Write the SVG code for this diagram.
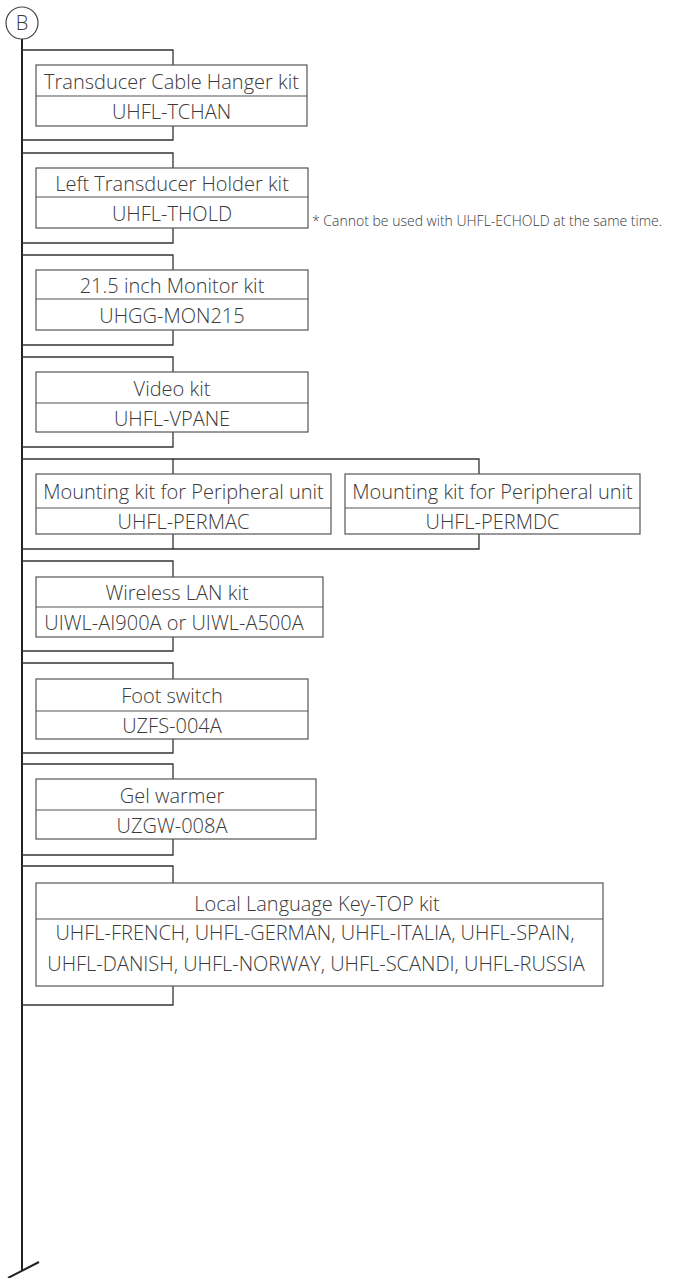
<svg xmlns="http://www.w3.org/2000/svg" width="673" height="1278" viewBox="0 0 673 1278">
<style>
.box{fill:#fff;stroke:#555;stroke-width:1.2}
.div{stroke:#555;stroke-width:1.2}
.br{fill:none;stroke:#333;stroke-width:1.3}
.main{fill:none;stroke:#222;stroke-width:2}
text{font-family:"Open Sans","Liberation Sans",sans-serif;font-weight:300;font-size:20px;fill:#3a3a3a;text-anchor:middle}
.note{font-size:14px;text-anchor:start}
</style>
<rect width="673" height="1278" fill="#fff"/>
<g id="connectors">
<path class="main" d="M22,39 V1271"/>
<path class="main" d="M8,1278 L39,1262" stroke-width="1.3"/>
<path class="br" d="M22,50 H173 V65 M173,126 V140 H22"/>
<path class="br" d="M22,153 H173 V168 M173,228 V243 H22"/>
<path class="br" d="M22,255 H173 V270 M173,330 V345 H22"/>
<path class="br" d="M22,357 H173 V372 M173,432 V447 H22"/>
<path class="br" d="M22,459 H479 V474 M173,459 V474 M173,534 V549 M479,534 V549 H22"/>
<path class="br" d="M22,561 H173 V577 M173,637 V651 H22"/>
<path class="br" d="M22,663 H173 V679 M173,739 V753 H22"/>
<path class="br" d="M22,764 H173 V779 M173,839 V855 H22"/>
<path class="br" d="M22,866 H173 V883 M173,986 V1005 H22"/>
</g>
<g id="nodeB">
<circle cx="22" cy="23" r="16" fill="#fff" stroke="#444" stroke-width="1.2"/>
<text x="22" y="30">B</text>
</g>
<g id="n1">
<rect class="box" x="36" y="65" width="271" height="61"/>
<line class="div" x1="36" y1="96" x2="307" y2="96"/>
<text x="171.5" y="88.5">Transducer Cable Hanger kit</text>
<text x="171.5" y="119">UHFL-TCHAN</text>
</g>
<g id="n2">
<rect class="box" x="36" y="168" width="272" height="60"/>
<line class="div" x1="36" y1="197" x2="308" y2="197"/>
<text x="172" y="190.5">Left Transducer Holder kit</text>
<text x="172" y="220.5">UHFL-THOLD</text>
<text class="note" x="312" y="226">* Cannot be used with UHFL-ECHOLD at the same time.</text>
</g>
<g id="n3">
<rect class="box" x="36" y="270" width="272" height="60"/>
<line class="div" x1="36" y1="299" x2="308" y2="299"/>
<text x="172" y="292.5">21.5 inch Monitor kit</text>
<text x="172" y="322.5">UHGG-MON215</text>
</g>
<g id="n4">
<rect class="box" x="36" y="372" width="272" height="60"/>
<line class="div" x1="36" y1="403" x2="308" y2="403"/>
<text x="172" y="395.5">Video kit</text>
<text x="172" y="425.5">UHFL-VPANE</text>
</g>
<g id="n5a">
<rect class="box" x="36" y="474" width="295" height="60"/>
<line class="div" x1="36" y1="508" x2="331" y2="508"/>
<text x="183.5" y="499">Mounting kit for Peripheral unit</text>
<text x="183.5" y="529">UHFL-PERMAC</text>
</g>
<g id="n5b">
<rect class="box" x="345" y="474" width="295" height="60"/>
<line class="div" x1="345" y1="508" x2="640" y2="508"/>
<text x="492.5" y="499">Mounting kit for Peripheral unit</text>
<text x="492.5" y="529">UHFL-PERMDC</text>
</g>
<g id="n6">
<rect class="box" x="36" y="577" width="287" height="60"/>
<line class="div" x1="36" y1="607" x2="323" y2="607"/>
<text x="177" y="600">Wireless LAN kit</text>
<text x="174" y="630">UIWL-AI900A or UIWL-A500A</text>
</g>
<g id="n7">
<rect class="box" x="36" y="679" width="272" height="60"/>
<line class="div" x1="36" y1="711" x2="308" y2="711"/>
<text x="172" y="703">Foot switch</text>
<text x="172" y="733">UZFS-004A</text>
</g>
<g id="n8">
<rect class="box" x="36" y="779" width="280" height="60"/>
<line class="div" x1="36" y1="810" x2="316" y2="810"/>
<text x="172" y="802.5">Gel warmer</text>
<text x="172" y="832.5">UZGW-008A</text>
</g>
<g id="n9">
<rect class="box" x="36" y="883" width="567" height="103"/>
<line class="div" x1="36" y1="919" x2="603" y2="919"/>
<text x="317" y="911">Local Language Key-TOP kit</text>
<text x="315" y="940">UHFL-FRENCH, UHFL-GERMAN, UHFL-ITALIA, UHFL-SPAIN,</text>
<text x="316" y="971">UHFL-DANISH, UHFL-NORWAY, UHFL-SCANDI, UHFL-RUSSIA</text>
</g>
</svg>
